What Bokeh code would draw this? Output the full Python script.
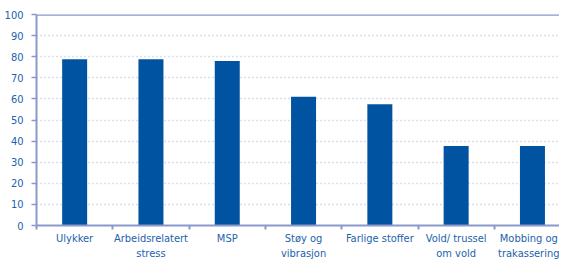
from bokeh.plotting import figure
from bokeh.models import FixedTicker, Span, Range1d, ColumnDataSource
from bokeh.embed import file_html
from bokeh.resources import INLINE

categories = ["Ulykker", "Arbeidsrelatert\nstress", "MSP", "Støy og\nvibrasjon",
              "Farlige stoffer", "Vold/ trussel\nom vold", "Mobbing og\ntrakassering"]
values = [78.8, 78.8, 78.0, 61.0, 57.5, 37.7, 37.7]
y_ticks = [0, 10, 20, 30, 40, 50, 60, 70, 80, 90, 100]

BAR = "#0053a0"
AXIS = "#8a98cc"
GRID = "#b4bde3"
TEXT = "#2262ad"
FONT = "Liberation Sans Narrow, DejaVu Sans Condensed, sans-serif"

W, H = 559, 263
LEFT, TOP, BOTTOM = 36, 14, 38
STEP_PX = 76.3
frame_w = W - LEFT

n = len(categories)
centers = [i + 0.5 for i in range(n)]
bounds = [float(i) for i in range(n + 1)]

p = figure(width=W, height=H, output_backend="svg", toolbar_location=None,
           x_range=Range1d(0, frame_w / STEP_PX), y_range=Range1d(0, 100),
           min_border_left=LEFT, min_border_right=0, min_border_top=TOP,
           min_border_bottom=BOTTOM)
p.outline_line_color = None
p.background_fill_color = "white"

src = ColumnDataSource(dict(x=centers, top=values))
p.vbar(x="x", top="top", width=25 / STEP_PX, bottom=0, source=src,
       fill_color=BAR, line_color=None)

# x axis: labels at centres, ticks at category boundaries
xa = p.xaxis[0]
xa.ticker = FixedTicker(ticks=centers, minor_ticks=bounds)
xa.major_label_overrides = {c: lab for c, lab in zip(centers, categories)}
xa.major_tick_line_color = None
xa.major_tick_out = 0
xa.major_tick_in = 0
xa.minor_tick_line_color = AXIS
xa.minor_tick_line_width = 2
xa.minor_tick_out = 4
xa.minor_tick_in = 0
xa.axis_line_color = AXIS
xa.axis_line_width = 2
xa.major_label_standoff = 2
xa.major_label_text_font = FONT
xa.major_label_text_font_size = "11px"
xa.major_label_text_color = TEXT

# y axis
ya = p.yaxis[0]
ya.ticker = FixedTicker(ticks=y_ticks)
ya.minor_tick_line_color = None
ya.major_tick_line_color = AXIS
ya.major_tick_line_width = 1.5
ya.major_tick_out = 5
ya.major_tick_in = 0
ya.axis_line_color = AXIS
ya.axis_line_width = 2
ya.major_label_standoff = 8
ya.major_label_text_font = FONT
ya.major_label_text_font_size = "11px"
ya.major_label_text_color = TEXT

p.xgrid.grid_line_color = None
p.ygrid.ticker = FixedTicker(ticks=y_ticks[1:-1])
p.ygrid.grid_line_color = GRID
p.ygrid.grid_line_dash = "1 3"
p.ygrid.grid_line_width = 1.5

p.add_layout(Span(location=100, dimension="width", line_color=AXIS, line_width=2.5))

open("out.html", "w").write(file_html(p, INLINE))
